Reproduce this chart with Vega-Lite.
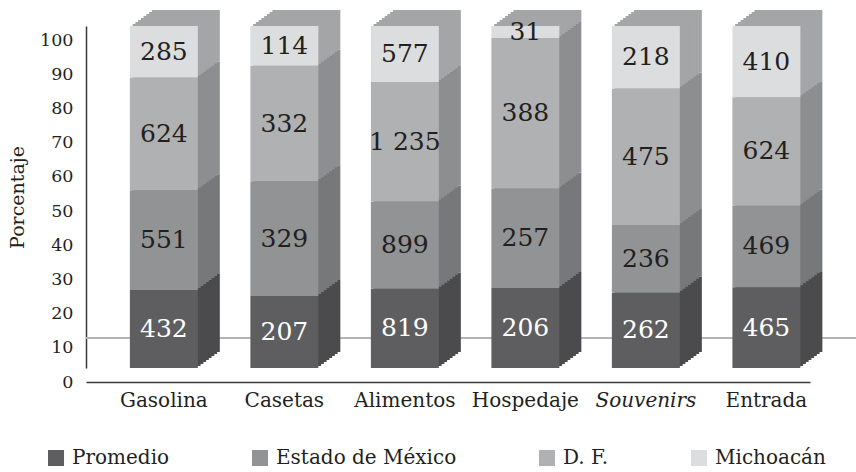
{
  "$schema": "https://vega.github.io/schema/vega-lite/v6.json",
  "width": 724,
  "height": 342,
  "autosize": "none",
  "padding": {"left": 86, "top": 26, "right": 46, "bottom": 104},
  "background": "white",
  "config": {
    "view": {"stroke": null},
    "font": "DejaVu Serif",
    "locale": {"number": {"decimal": ",", "thousands": " ", "grouping": [3], "currency": ["$", ""]}}
  },
  "data": {
    "values": [
      {"gasto": "Gasolina", "grupo": "Promedio", "v": 432},
      {"gasto": "Gasolina", "grupo": "Estado de México", "v": 551},
      {"gasto": "Gasolina", "grupo": "D. F.", "v": 624},
      {"gasto": "Gasolina", "grupo": "Michoacán", "v": 285},
      {"gasto": "Casetas", "grupo": "Promedio", "v": 207},
      {"gasto": "Casetas", "grupo": "Estado de México", "v": 329},
      {"gasto": "Casetas", "grupo": "D. F.", "v": 332},
      {"gasto": "Casetas", "grupo": "Michoacán", "v": 114},
      {"gasto": "Alimentos", "grupo": "Promedio", "v": 819},
      {"gasto": "Alimentos", "grupo": "Estado de México", "v": 899},
      {"gasto": "Alimentos", "grupo": "D. F.", "v": 1235},
      {"gasto": "Alimentos", "grupo": "Michoacán", "v": 577},
      {"gasto": "Hospedaje", "grupo": "Promedio", "v": 206},
      {"gasto": "Hospedaje", "grupo": "Estado de México", "v": 257},
      {"gasto": "Hospedaje", "grupo": "D. F.", "v": 388},
      {"gasto": "Hospedaje", "grupo": "Michoacán", "v": 31},
      {"gasto": "Souvenirs", "grupo": "Promedio", "v": 262},
      {"gasto": "Souvenirs", "grupo": "Estado de México", "v": 236},
      {"gasto": "Souvenirs", "grupo": "D. F.", "v": 475},
      {"gasto": "Souvenirs", "grupo": "Michoacán", "v": 218},
      {"gasto": "Entrada", "grupo": "Promedio", "v": 465},
      {"gasto": "Entrada", "grupo": "Estado de México", "v": 469},
      {"gasto": "Entrada", "grupo": "D. F.", "v": 624},
      {"gasto": "Entrada", "grupo": "Michoacán", "v": 410}
    ]
  },
  "transform": [
    {"calculate": "indexof(['Promedio', 'Estado de México', 'D. F.', 'Michoacán'], datum.grupo)", "as": "orden"}
  ],
  "encoding": {
    "x": {
      "field": "gasto", "type": "nominal", "sort": null,
      "scale": {"paddingInner": 0.436, "paddingOuter": 0.222, "align": 0.82},
      "axis": {
        "title": null, "labelAngle": 0, "ticks": false, "offset": 14,
        "domainColor": "#3a3a3a", "domainWidth": 1.5,
        "labelFont": "DejaVu Serif", "labelFontSize": 20, "labelColor": "#231f20",
        "labelPadding": 8,
        "labelFontStyle": {"expr": "datum.value == 'Souvenirs' ? 'italic' : 'normal'"}
      }
    },
    "y": {
      "field": "v", "type": "quantitative", "stack": "normalize",
      "scale": {"domain": [0, 1], "nice": false},
      "axis": {
        "title": "Porcentaje", "titleFont": "DejaVu Serif", "titleFontSize": 19,
        "titleFontWeight": "normal", "titleColor": "#231f20", "titlePadding": 12,
        "values": [0, 0.1, 0.2, 0.3, 0.4, 0.5, 0.6, 0.7, 0.8, 0.9, 1],
        "labelExpr": "format(datum.value * 100, 'd')",
        "grid": false, "ticks": false, "labelPadding": 13, "labelOffset": 14,
        "labelFont": "DejaVu Serif", "labelFontSize": 17.5, "labelColor": "#231f20",
        "domainColor": "#3a3a3a", "domainWidth": 1.5
      }
    },
    "order": {"field": "orden", "type": "quantitative", "sort": "ascending"}
  },
  "resolve": {"scale": {"color": "independent"}},
  "layer": [
    {
      "mark": {"type": "rule", "color": "#b4b4b4", "strokeWidth": 1, "xOffset": 58, "yOffset": -30},
      "encoding": {"x": null, "order": null, "y": {"datum": 0, "type": "quantitative"}}
    },
    {
      "mark": {"type": "bar", "xOffset": 22, "yOffset": -16},
      "encoding": {"color": {"field": "grupo", "type": "nominal", "scale": {"domain": ["Promedio", "Estado de México", "D. F.", "Michoacán"], "range": ["#4b4b4d", "#77787a", "#8d8e90", "#a4a5a7"]}, "legend": null}}
    },
    {
      "mark": {"type": "bar", "xOffset": 19.25, "yOffset": -14},
      "encoding": {"color": {"field": "grupo", "type": "nominal", "scale": {"domain": ["Promedio", "Estado de México", "D. F.", "Michoacán"], "range": ["#4b4b4d", "#77787a", "#8d8e90", "#a4a5a7"]}, "legend": null}}
    },
    {
      "mark": {"type": "bar", "xOffset": 16.5, "yOffset": -12},
      "encoding": {"color": {"field": "grupo", "type": "nominal", "scale": {"domain": ["Promedio", "Estado de México", "D. F.", "Michoacán"], "range": ["#4b4b4d", "#77787a", "#8d8e90", "#a4a5a7"]}, "legend": null}}
    },
    {
      "mark": {"type": "bar", "xOffset": 13.75, "yOffset": -10},
      "encoding": {"color": {"field": "grupo", "type": "nominal", "scale": {"domain": ["Promedio", "Estado de México", "D. F.", "Michoacán"], "range": ["#4b4b4d", "#77787a", "#8d8e90", "#a4a5a7"]}, "legend": null}}
    },
    {
      "mark": {"type": "bar", "xOffset": 11, "yOffset": -8},
      "encoding": {"color": {"field": "grupo", "type": "nominal", "scale": {"domain": ["Promedio", "Estado de México", "D. F.", "Michoacán"], "range": ["#4b4b4d", "#77787a", "#8d8e90", "#a4a5a7"]}, "legend": null}}
    },
    {
      "mark": {"type": "bar", "xOffset": 8.25, "yOffset": -6},
      "encoding": {"color": {"field": "grupo", "type": "nominal", "scale": {"domain": ["Promedio", "Estado de México", "D. F.", "Michoacán"], "range": ["#4b4b4d", "#77787a", "#8d8e90", "#a4a5a7"]}, "legend": null}}
    },
    {
      "mark": {"type": "bar", "xOffset": 5.5, "yOffset": -4},
      "encoding": {"color": {"field": "grupo", "type": "nominal", "scale": {"domain": ["Promedio", "Estado de México", "D. F.", "Michoacán"], "range": ["#4b4b4d", "#77787a", "#8d8e90", "#a4a5a7"]}, "legend": null}}
    },
    {
      "mark": {"type": "bar", "xOffset": 2.75, "yOffset": -2},
      "encoding": {"color": {"field": "grupo", "type": "nominal", "scale": {"domain": ["Promedio", "Estado de México", "D. F.", "Michoacán"], "range": ["#4b4b4d", "#77787a", "#8d8e90", "#a4a5a7"]}, "legend": null}}
    },
    {
      "mark": {"type": "bar"},
      "encoding": {
        "color": {
          "field": "grupo", "type": "nominal",
          "sort": ["Promedio", "Estado de México", "D. F.", "Michoacán"],
          "scale": {"domain": ["Promedio", "Estado de México", "D. F.", "Michoacán"],
                    "range": ["#5e5e60", "#929395", "#b0b1b3", "#dcdddf"]},
          "legend": {
            "title": null, "orient": "none", "direction": "horizontal", "columns": 4,
            "legendX": -40, "legendY": 422,
            "symbolType": "square", "symbolSize": 256, "symbolStrokeWidth": 0,
            "labelFont": "DejaVu Serif", "labelFontSize": 20, "labelColor": "#231f20",
            "labelOffset": 6, "columnPadding": 80, "labelLimit": 300
          }
        }
      }
    },
    {
      "mark": {"type": "text", "fontSize": 25, "font": "DejaVu Serif", "baseline": "middle"},
      "encoding": {
        "y": {"field": "v", "type": "quantitative", "stack": "normalize", "bandPosition": 0.5},
        "text": {"field": "v", "type": "quantitative", "format": ",d"},
        "color": {
          "field": "grupo", "type": "nominal",
          "scale": {"domain": ["Promedio", "Estado de México", "D. F.", "Michoacán"],
                    "range": ["#ffffff", "#231f20", "#231f20", "#231f20"]},
          "legend": null
        }
      }
    }
  ]
}
